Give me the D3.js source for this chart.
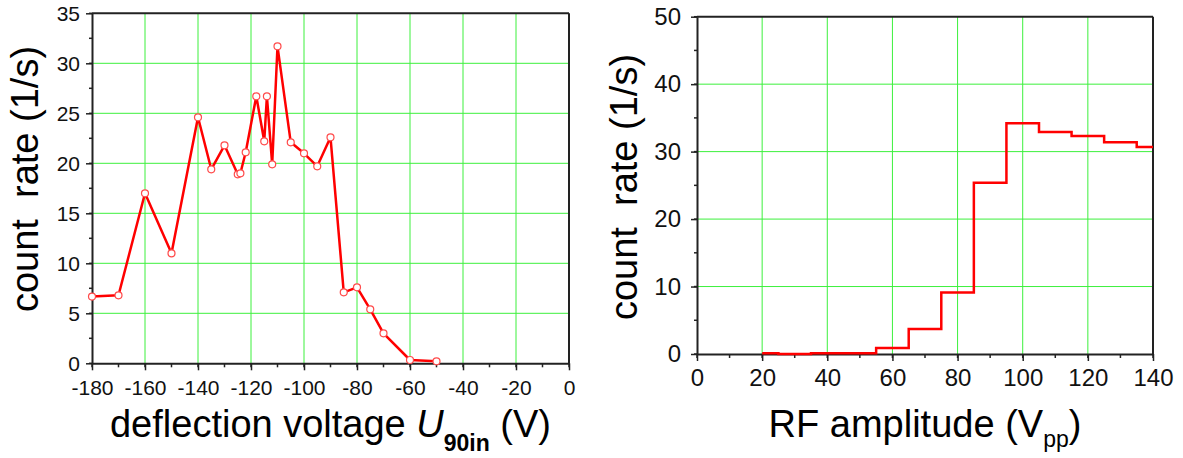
<!DOCTYPE html>
<html>
<head>
<meta charset="utf-8">
<script src="https://cdn.jsdelivr.net/npm/d3@7"></script>
<style>
  html, body { margin: 0; padding: 0; background: #fff; }
  svg { display: block; font-family: "Liberation Sans", Arial, sans-serif; }
</style>
</head>
<body>
<svg id="chart" width="1183" height="458"></svg>
<script>
// ---- Data: left panel (deflection voltage scan) ----
const deflVoltage = [-180,-170,-160,-150,-140,-135,-130,-125,-124,-122,-118,-115,-114,-112,-110,-105,-100,-95,-90,-85,-80,-75,-70,-60,-50];
const deflRate    = [6.67,6.8,17.0,11.0,24.6,19.4,21.8,18.9,19.0,21.1,26.7,22.2,26.7,19.9,31.7,22.1,21.0,19.7,22.6,7.1,7.6,5.4,3.0,0.33,0.2];
const leftXTicks = [-180,-160,-140,-120,-100,-80,-60,-40,-20,0];
const leftYTicks = [0,5,10,15,20,25,30,35];

// ---- Data: right panel (RF amplitude scan) ----
const rfAmplitude = [20,30,40,50,60,70,80,90,100,110,120,130,140];
const rfRate      = [0.1,0.0,0.1,0.1,0.9,3.7,9.1,25.4,34.2,32.9,32.3,31.4,30.7];
const rightXTicks = [0,20,40,60,80,100,120,140];
const rightYTicks = [0,10,20,30,40,50];

const svg = d3.select("#chart");
const gridColor = "#3cf03c";
const axisColor = "#222";
const red = "#ff0000";

function panel(cfg) {
  const x = d3.scaleLinear().domain(cfg.xDomain).range([cfg.left, cfg.right]);
  const y = d3.scaleLinear().domain(cfg.yDomain).range([cfg.bottom, cfg.top]);
  const g = svg.append("g");

  // grid
  g.append("g").selectAll("line.vg").data(cfg.xTicks.filter(t => t !== cfg.xDomain[0] && t !== cfg.xDomain[1]))
    .join("line").attr("x1", d => x(d)).attr("x2", d => x(d))
    .attr("y1", cfg.top).attr("y2", cfg.bottom)
    .attr("stroke", gridColor).attr("stroke-width", 1);
  g.append("g").selectAll("line.hg").data(cfg.yTicks.filter(t => t !== cfg.yDomain[0] && t !== cfg.yDomain[1]))
    .join("line").attr("y1", d => y(d)).attr("y2", d => y(d))
    .attr("x1", cfg.left).attr("x2", cfg.right)
    .attr("stroke", gridColor).attr("stroke-width", 1);

  // minor ticks
  const xMinor = d3.range(cfg.xDomain[0], cfg.xDomain[1] + 1e-9, cfg.xMinorStep);
  const yMinor = d3.range(cfg.yDomain[0], cfg.yDomain[1] + 1e-9, cfg.yMinorStep);

  const xAxis = d3.axisBottom(x).tickValues(cfg.xTicks).tickSize(7).tickSizeOuter(0).tickPadding(cfg.xPad)
    .tickFormat(d => String(d).replace("\u2212", "-"));
  const yAxis = d3.axisLeft(y).tickValues(cfg.yTicks).tickSize(6).tickSizeOuter(0).tickPadding(cfg.yPad);

  g.append("g").attr("transform", `translate(0,${cfg.bottom})`)
    .selectAll("line").data(xMinor).join("line")
    .attr("x1", d => x(d)).attr("x2", d => x(d)).attr("y1", 0).attr("y2", 4)
    .attr("stroke", axisColor).attr("stroke-width", 1.5);
  g.append("g").attr("transform", `translate(${cfg.left},0)`)
    .selectAll("line").data(yMinor).join("line")
    .attr("y1", d => y(d)).attr("y2", d => y(d)).attr("x1", 0).attr("x2", -3)
    .attr("stroke", axisColor).attr("stroke-width", 1.5);

  const gx = g.append("g").attr("transform", `translate(0,${cfg.bottom})`).call(xAxis);
  const gy = g.append("g").attr("transform", `translate(${cfg.left},0)`).call(yAxis);
  [gx, gy].forEach(a => {
    a.select(".domain").attr("stroke", axisColor).attr("stroke-width", 2);
    a.selectAll(".tick line").attr("stroke", axisColor).attr("stroke-width", 1.5);
    a.selectAll(".tick text").attr("fill", "#111").attr("font-size", cfg.tickFont)
      .attr("font-family", "Liberation Sans, Arial, sans-serif");
  });
  gx.selectAll(".tick text").attr("dy", "0.76em");

  // box top/right
  g.append("line").attr("x1", cfg.left).attr("x2", cfg.right).attr("y1", cfg.top).attr("y2", cfg.top)
    .attr("stroke", axisColor).attr("stroke-width", 2);
  g.append("line").attr("x1", cfg.right).attr("x2", cfg.right).attr("y1", cfg.top).attr("y2", cfg.bottom)
    .attr("stroke", axisColor).attr("stroke-width", 2);

  return { x, y, g };
}

// ---------- Left panel ----------
const L = panel({
  left: 92, right: 569, top: 13.3, bottom: 363.3,
  xDomain: [-180, 0], yDomain: [0, 35],
  xTicks: leftXTicks, yTicks: leftYTicks,
  xMinorStep: 10, yMinorStep: 2.5,
  tickFont: 21, yPad: 6, xPad: 8.5
});
const lineL = d3.line().x((d, i) => L.x(deflVoltage[i])).y(d => L.y(d));
L.g.append("path").datum(deflRate).attr("d", lineL)
  .attr("fill", "none").attr("stroke", red).attr("stroke-width", 2.5).attr("stroke-linejoin", "round");
L.g.append("g").selectAll("circle").data(deflRate).join("circle")
  .attr("cx", (d, i) => L.x(deflVoltage[i])).attr("cy", d => L.y(d)).attr("r", 3.5)
  .attr("fill", "#fff").attr("stroke", "#ff4a4a").attr("stroke-width", 1.2);

svg.append("text").attr("transform", "translate(38,179) rotate(-90)")
  .attr("text-anchor", "middle").attr("font-size", 38).attr("fill", "#000")
  .style("white-space", "pre").text("count  rate (1/s)");

const xtL = svg.append("text").attr("x", 330.5).attr("y", 437).attr("text-anchor", "middle")
  .attr("font-size", 38).attr("fill", "#000").style("white-space", "pre");
xtL.append("tspan").text("deflection voltage ");
xtL.append("tspan").attr("font-style", "italic").text("U");
xtL.append("tspan").attr("font-weight", "bold").attr("font-size", 23).attr("dy", 14).text("90in");
xtL.append("tspan").attr("dy", -14).text(" (V)");

// ---------- Right panel ----------
const R = panel({
  left: 697, right: 1153, top: 16.7, bottom: 354,
  xDomain: [0, 140], yDomain: [0, 50],
  xTicks: rightXTicks, yTicks: rightYTicks,
  xMinorStep: 10, yMinorStep: 5,
  tickFont: 24, yPad: 10, xPad: 7
});
const lineR = d3.line().curve(d3.curveStep).x((d, i) => R.x(rfAmplitude[i])).y(d => R.y(d));
R.g.append("path").datum(rfRate).attr("d", lineR)
  .attr("fill", "none").attr("stroke", red).attr("stroke-width", 2.5);

svg.append("text").attr("transform", "translate(637,187) rotate(-90)")
  .attr("text-anchor", "middle").attr("font-size", 38).attr("fill", "#000")
  .style("white-space", "pre").text("count  rate (1/s)");

const xtR = svg.append("text").attr("x", 925).attr("y", 437).attr("text-anchor", "middle")
  .attr("font-size", 38).attr("fill", "#000").style("white-space", "pre");
xtR.append("tspan").text("RF amplitude (V");
xtR.append("tspan").attr("font-size", 23).attr("dy", 10).text("pp");
xtR.append("tspan").attr("dy", -10).text(")");
</script>
</body>
</html>
